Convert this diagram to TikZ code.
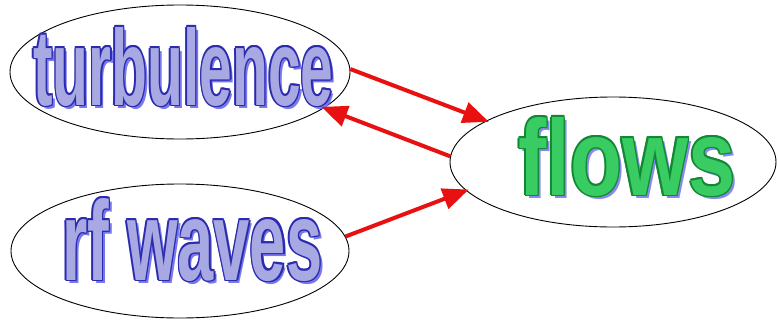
\documentclass[tikz,border=0pt]{standalone}
\usepackage{fontspec}
\setmainfont{Liberation Sans}
\usepackage{graphicx}
\usetikzlibrary{arrows.meta,calc,shapes.geometric}
\definecolor{bfill}{HTML}{A8A8E2}
\definecolor{bline}{HTML}{2B2BB0}
\definecolor{bshad}{HTML}{7777EE}
\definecolor{gfill}{HTML}{38CC62}
\definecolor{gline}{HTML}{118833}
\definecolor{gshad}{HTML}{8888EE}
\definecolor{arrred}{HTML}{E81010}
\newcommand\wordart[5]{%
  \node[wtxt,text=#4] at ($#1+(3,3)$) {#5};
  \foreach \a in {0,45,...,315}
    \node[wtxt,text=#3] at ($#1+(\a:1.5)$) {#5};
  \node[wtxt,text=#2] at #1 {#5};
}
\begin{document}
\begin{tikzpicture}[x=1pt,y=-1pt,
  oval/.style={ellipse,draw=black,line width=0.9pt,inner sep=0pt},
  wtxt/.style={inner sep=0pt,anchor=base west,font=\bfseries},
  arr/.style={draw=arrred,line width=4pt,-{Triangle[length=26pt,width=21pt]}}]
\useasboundingbox (0,0) rectangle (778,324);
\fill[white] (0,0) rectangle (778,324);
\node[oval,minimum width=340pt,minimum height=134pt] (turb) at (180,72) {};
\node[oval,minimum width=338pt,minimum height=134pt] (rf) at (180,251) {};
\node[oval,minimum width=326pt,minimum height=130pt] (flows) at (613,162) {};
\wordart{(33,105)}{bfill}{bline}{bshad}{\resizebox{300pt}{78pt}{turbulence}}
\wordart{(62,280)}{bfill}{bline}{bshad}{\resizebox{260pt}{82pt}{rf waves}}
\wordart{(518,195)}{gfill}{gline}{gshad}{\resizebox{217pt}{78pt}{flows}}
\draw[arr,shorten >=-3pt] (turb.1) -- (flows.162);
\draw[arr,shorten >=-3pt] (flows.178) -- (turb.-14);
\draw[arr,shorten >=-3pt] (rf.5) -- (flows.191);
\end{tikzpicture}
\end{document}
